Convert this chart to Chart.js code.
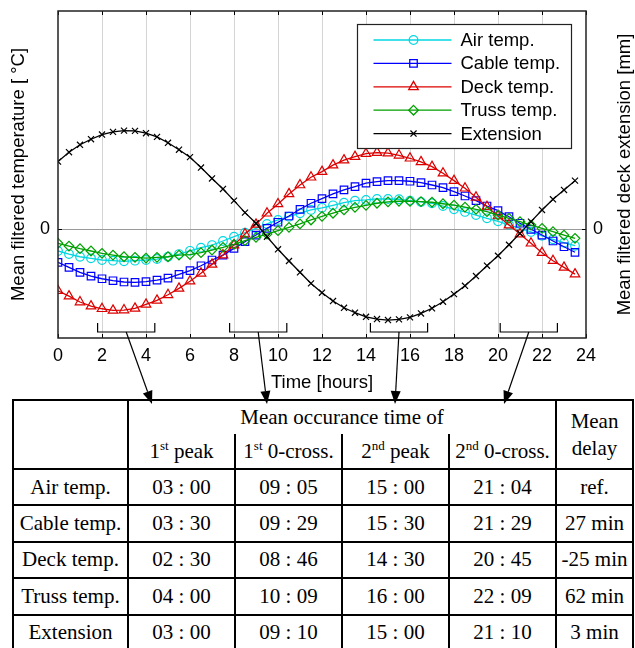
<!DOCTYPE html>
<html>
<head>
<meta charset="utf-8">
<script src="https://cdn.jsdelivr.net/npm/chart.js@4.4.0/dist/chart.umd.min.js"></script>
<style>
html, body { margin: 0; padding: 0; background: #fff; }
#wrap { position: relative; width: 635px; height: 648px; overflow: hidden; }
#plot { position: absolute; left: 0; top: 0; z-index: 2; pointer-events: none; }
#tbl { position: absolute; left: 12px; top: 399px; z-index: 1; width: 620px;
  border-collapse: collapse; table-layout: fixed;
  font-family: "Liberation Serif", "Times New Roman", serif; font-size: 21px; color: #000; }
#tbl td { border: 2px solid #000; text-align: center; vertical-align: middle; padding: 0; height: 34.4px; white-space: nowrap; }
#tbl td.top { border-bottom: none; height: 33px; }
#tbl tr.sub td.s { border-top: none; height: 34px; }
#tbl td.delay { line-height: 27px; }
#tbl sup { font-size: 13px; vertical-align: 8px; line-height: 0; }
</style>
</head>
<body>
<div id="wrap">
  <canvas id="plot" width="635" height="410"></canvas>
  <table id="tbl">
    <colgroup>
      <col style="width:115px"><col style="width:107px"><col style="width:107px">
      <col style="width:107px"><col style="width:107px"><col style="width:77px">
    </colgroup>
    <tr><td rowspan="2"></td><td class="top" colspan="4">Mean occurance time of</td><td class="delay" rowspan="2">Mean<br>delay</td></tr>
    <tr class="sub"><td class="s">1<sup>st</sup> peak</td><td class="s">1<sup>st</sup> 0-cross.</td><td class="s">2<sup>nd</sup> peak</td><td class="s">2<sup>nd</sup> 0-cross.</td></tr>
    <tbody id="rows"></tbody>
  </table>
</div>
<script>
// time of day, hours
var times = [0, 0.5, 1, 1.5, 2, 2.5, 3, 3.5, 4, 4.5, 5, 5.5, 6, 6.5, 7, 7.5, 8, 8.5, 9, 9.5, 10, 10.5, 11, 11.5,
  12, 12.5, 13, 13.5, 14, 14.5, 15, 15.5, 16, 16.5, 17, 17.5, 18, 18.5, 19, 19.5, 20, 20.5, 21, 21.5, 22, 22.5, 23, 23.5];

var airTemp = [-2.22, -2.53, -2.80, -2.96, -3.13, -3.20, -3.26, -3.20, -3.13, -3.03, -2.80, -2.53,
  -2.20, -1.89, -1.62, -1.21, -0.78, -0.37, 0.07, 0.51, 0.91, 1.24, 1.59, 1.92,
  2.14, 2.39, 2.66, 2.86, 2.93, 3.03, 3.03, 3.00, 2.86, 2.73, 2.60, 2.32,
  1.99, 1.72, 1.41, 1.08, 0.78, 0.42, 0.05, -0.30, -0.69, -1.04, -1.38, -1.69];

var cableTemp = [-3.37, -3.87, -4.37, -4.75, -5.02, -5.22, -5.35, -5.38, -5.32, -5.15, -4.95, -4.58,
  -4.21, -3.71, -3.13, -2.63, -1.95, -1.28, -0.61, 0.07, 0.68, 1.31, 1.99, 2.60,
  3.07, 3.54, 3.94, 4.27, 4.62, 4.78, 4.88, 4.88, 4.82, 4.68, 4.44, 4.17,
  3.77, 3.33, 2.86, 2.32, 1.85, 1.24, 0.58, -0.03, -0.61, -1.21, -1.79, -2.35];

var deckTemp = [-6.23, -6.77, -7.37, -7.78, -8.05, -8.21, -8.18, -8.01, -7.61, -7.20, -6.64, -5.99,
  -5.27, -4.47, -3.57, -2.63, -1.62, -0.51, 0.47, 1.59, 2.53, 3.54, 4.44, 5.22,
  5.79, 6.45, 6.95, 7.30, 7.60, 7.71, 7.65, 7.44, 7.14, 6.77, 6.29, 5.63,
  4.88, 4.11, 3.20, 2.25, 1.31, 0.40, -0.51, -1.44, -2.39, -3.20, -3.87, -4.55];

var trussTemp = [-1.44, -1.72, -1.99, -2.22, -2.45, -2.63, -2.80, -2.86, -2.93, -2.86, -2.80, -2.63,
  -2.58, -2.39, -2.12, -1.85, -1.55, -1.18, -0.84, -0.51, -0.17, 0.17, 0.51, 0.91,
  1.28, 1.59, 1.92, 2.19, 2.39, 2.60, 2.73, 2.80, 2.80, 2.76, 2.70, 2.55,
  2.40, 2.20, 1.99, 1.75, 1.41, 1.08, 0.74, 0.40, 0.07, -0.27, -0.61, -0.94];

var extension = [6.80, 7.75, 8.50, 9.06, 9.53, 9.80, 9.93, 9.90, 9.67, 9.30, 8.70, 8.00,
  7.25, 6.20, 5.10, 4.04, 2.86, 1.65, 0.58, -0.78, -2.05, -3.23, -4.37, -5.49,
  -6.43, -7.27, -7.95, -8.45, -8.86, -9.09, -9.19, -9.12, -8.92, -8.52, -8.00, -7.34,
  -6.57, -5.73, -4.75, -3.70, -2.70, -1.59, -0.43, 0.74, 1.92, 3.00, 3.94, 4.88];

var xTicks = [0, 2, 4, 6, 8, 10, 12, 14, 16, 18, 20, 22, 24];

// time windows marked under the plot (hours)
var windowStart = [1.8, 7.8, 14.2, 20.1];
var windowEnd = [4.4, 10.4, 16.8, 22.7];

// table
var rowNames = ['Air temp.', 'Cable temp.', 'Deck temp.', 'Truss temp.', 'Extension'];
var firstPeak = ['03 : 00', '03 : 30', '02 : 30', '04 : 00', '03 : 00'];
var firstCross = ['09 : 05', '09 : 29', '08 : 46', '10 : 09', '09 : 10'];
var secondPeak = ['15 : 00', '15 : 30', '14 : 30', '16 : 00', '15 : 00'];
var secondCross = ['21 : 04', '21 : 29', '20 : 45', '22 : 09', '21 : 10'];
var meanDelay = ['ref.', '27 min', '-25 min', '62 min', '3 min'];

var rows = document.getElementById('rows');
for (var i = 0; i < rowNames.length; i++) {
  var tr = document.createElement('tr');
  [rowNames[i], firstPeak[i], firstCross[i], secondPeak[i], secondCross[i], meanDelay[i]].forEach(function (s) {
    var td = document.createElement('td');
    td.textContent = s;
    tr.appendChild(td);
  });
  rows.appendChild(tr);
}

function pts(ys) {
  return times.map(function (t, i) { return {x: t, y: ys[i]}; });
}

var SANS = '"Liberation Sans", Arial, Helvetica, sans-serif';
Chart.defaults.font.family = SANS;
Chart.defaults.color = '#000';

function marker(ctx, style, r, x, y) {
  ctx.beginPath();
  if (style === 'circle') {
    ctx.arc(x, y, r, 0, Math.PI * 2);
  } else if (style === 'rect') {
    var s = r * Math.SQRT1_2;
    ctx.rect(x - s, y - s, 2 * s, 2 * s);
  } else if (style === 'triangle') {
    ctx.moveTo(x, y - r);
    ctx.lineTo(x + r * Math.sin(2 * Math.PI / 3), y + r / 2);
    ctx.lineTo(x - r * Math.sin(2 * Math.PI / 3), y + r / 2);
    ctx.closePath();
  } else if (style === 'rectRot') {
    ctx.moveTo(x, y - r); ctx.lineTo(x + r, y); ctx.lineTo(x, y + r); ctx.lineTo(x - r, y);
    ctx.closePath();
  } else if (style === 'crossRot') {
    var c = r * Math.SQRT1_2;
    ctx.moveTo(x - c, y - c); ctx.lineTo(x + c, y + c);
    ctx.moveTo(x - c, y + c); ctx.lineTo(x + c, y - c);
  }
  ctx.stroke();
}

var decor = {
  id: 'decor',
  afterDraw: function (chart) {
    var ctx = chart.ctx, ca = chart.chartArea;
    var xs = chart.scales.x, ys = chart.scales.y;
    ctx.save();

    // inner tick marks
    ctx.strokeStyle = '#000';
    ctx.lineWidth = 1;
    ctx.beginPath();
    xTicks.forEach(function (t) {
      var px = Math.round(xs.getPixelForValue(t)) + 0.5;
      ctx.moveTo(px, ca.top); ctx.lineTo(px, ca.top + 4);
      ctx.moveTo(px, ca.bottom); ctx.lineTo(px, ca.bottom - 4);
    });
    var y0 = Math.round(ys.getPixelForValue(0)) + 0.5;
    ctx.moveTo(ca.left, y0); ctx.lineTo(ca.left + 4, y0);
    ctx.moveTo(ca.right, y0); ctx.lineTo(ca.right - 4, y0);
    ctx.stroke();

    // frame
    ctx.strokeStyle = '#222';
    ctx.lineWidth = 1.5;
    ctx.strokeRect(ca.left, ca.top, ca.right - ca.left, ca.bottom - ca.top);

    // brackets and arrows
    var tips = [152, 267, 395, 504];
    ctx.strokeStyle = '#000';
    ctx.fillStyle = '#000';
    ctx.lineWidth = 1.2;
    for (var i = 0; i < windowStart.length; i++) {
      var a = xs.getPixelForValue(windowStart[i]);
      var b = xs.getPixelForValue(windowEnd[i]);
      var hy = ca.bottom - 6, ty = ca.bottom - 15;
      ctx.beginPath();
      ctx.moveTo(a, ty); ctx.lineTo(a, hy); ctx.lineTo(b, hy); ctx.lineTo(b, ty);
      ctx.stroke();
      var sx = (a + b) / 2, ex = tips[i], ey = 404;
      var ang = Math.atan2(ey - hy, ex - sx);
      var L = 13, W = 5;
      var bx = ex - L * Math.cos(ang), by = ey - L * Math.sin(ang);
      ctx.beginPath();
      ctx.moveTo(sx, hy); ctx.lineTo(bx, by);
      ctx.stroke();
      ctx.beginPath();
      ctx.moveTo(ex, ey);
      ctx.lineTo(bx + W * Math.sin(ang), by - W * Math.cos(ang));
      ctx.lineTo(bx - W * Math.sin(ang), by + W * Math.cos(ang));
      ctx.closePath();
      ctx.fill();
    }

    // legend
    var lx = ca.right - 228.5, ly = ca.top + 13.5, lw = 214, lh = 124;
    ctx.fillStyle = '#fff';
    ctx.fillRect(lx, ly, lw, lh);
    ctx.strokeStyle = '#222';
    ctx.lineWidth = 1.2;
    ctx.strokeRect(lx, ly, lw, lh);
    ctx.font = '18.5px ' + SANS;
    ctx.textBaseline = 'middle';
    ctx.textAlign = 'left';
    chart.data.datasets.forEach(function (ds, k) {
      var ry = ly + 15.5 + k * 23.4;
      ctx.strokeStyle = ds.borderColor;
      ctx.lineWidth = 1.3;
      ctx.beginPath();
      ctx.moveTo(lx + 16, ry); ctx.lineTo(lx + 94, ry);
      ctx.stroke();
      marker(ctx, ds.pointStyle, ds.pointRadius, lx + 56, ry);
      ctx.fillStyle = '#000';
      ctx.fillText(ds.label, lx + 103, ry + 1);
    });

    // right axis title, read bottom to top
    ctx.translate(625, (ca.top + ca.bottom) / 2);
    ctx.rotate(-Math.PI / 2);
    ctx.textAlign = 'center';
    ctx.fillStyle = '#000';
    ctx.fillText('Mean filtered deck extension [mm]', 0, 0);
    ctx.restore();
  }
};

function series(label, data, color, style, r, axis, order) {
  return {
    label: label, data: pts(data), yAxisID: axis, order: order,
    borderColor: color, borderWidth: 1.3,
    pointStyle: style, pointRadius: r, pointBorderWidth: 1.2,
    pointBorderColor: color, pointBackgroundColor: 'rgba(0,0,0,0)',
    pointHoverRadius: r, tension: 0
  };
}

new Chart(document.getElementById('plot'), {
  type: 'line',
  data: {
    datasets: [
      series('Air temp.', airTemp, 'rgb(0,215,225)', 'circle', 4.3, 'y', 4),
      series('Cable temp.', cableTemp, 'rgb(0,0,255)', 'rect', 5.3, 'y', 3),
      series('Deck temp.', deckTemp, 'rgb(220,0,0)', 'triangle', 5.5, 'y', 2),
      series('Truss temp.', trussTemp, 'rgb(0,160,0)', 'rectRot', 4.8, 'y', 1),
      series('Extension', extension, '#000', 'crossRot', 4.3, 'y2', 0)
    ]
  },
  options: {
    responsive: false,
    devicePixelRatio: 1,
    animation: false,
    events: [],
    layout: {padding: {left: 0, right: 0, top: 11, bottom: 12}},
    plugins: {legend: {display: false}, tooltip: {enabled: false}},
    scales: {
      x: {
        type: 'linear', min: 0, max: 24,
        afterBuildTicks: function (ax) { ax.ticks = xTicks.map(function (v) { return {value: v}; }); },
        afterFit: function (ax) { ax.height = 60; ax.paddingLeft = 0; ax.paddingRight = 0; },
        grid: {
          drawTicks: false,
          color: function (c) { return (c.tick.value === 0 || c.tick.value === 24) ? 'rgba(0,0,0,0)' : '#d4d4d4'; },
          lineWidth: 1
        },
        border: {display: false},
        ticks: {font: {size: 18}, padding: 7, maxRotation: 0, autoSkip: false},
        title: {display: true, text: 'Time [hours]', font: {size: 18.5}, padding: {top: 0, bottom: 4}}
      },
      y: {
        position: 'left', min: -11, max: 22,
        afterBuildTicks: function (ax) { ax.ticks = [{value: 0}]; },
        afterFit: function (ax) { ax.width = 58; ax.paddingTop = 0; ax.paddingBottom = 0; },
        grid: {drawTicks: false, color: '#9a9a9a', lineWidth: 1},
        border: {display: false},
        ticks: {font: {size: 18}, padding: 8},
        title: {display: true, text: 'Mean filtered temperature [ °C]', font: {size: 18.5}, padding: {top: 8, bottom: 0}}
      },
      y2: {
        position: 'right', min: -11, max: 22,
        afterBuildTicks: function (ax) { ax.ticks = [{value: 0}]; },
        afterFit: function (ax) { ax.width = 49; ax.paddingTop = 0; ax.paddingBottom = 0; },
        grid: {display: false, drawTicks: false},
        border: {display: false},
        ticks: {font: {size: 18}, padding: 7}
      }
    }
  },
  plugins: [decor]
});
</script>
</body>
</html>
